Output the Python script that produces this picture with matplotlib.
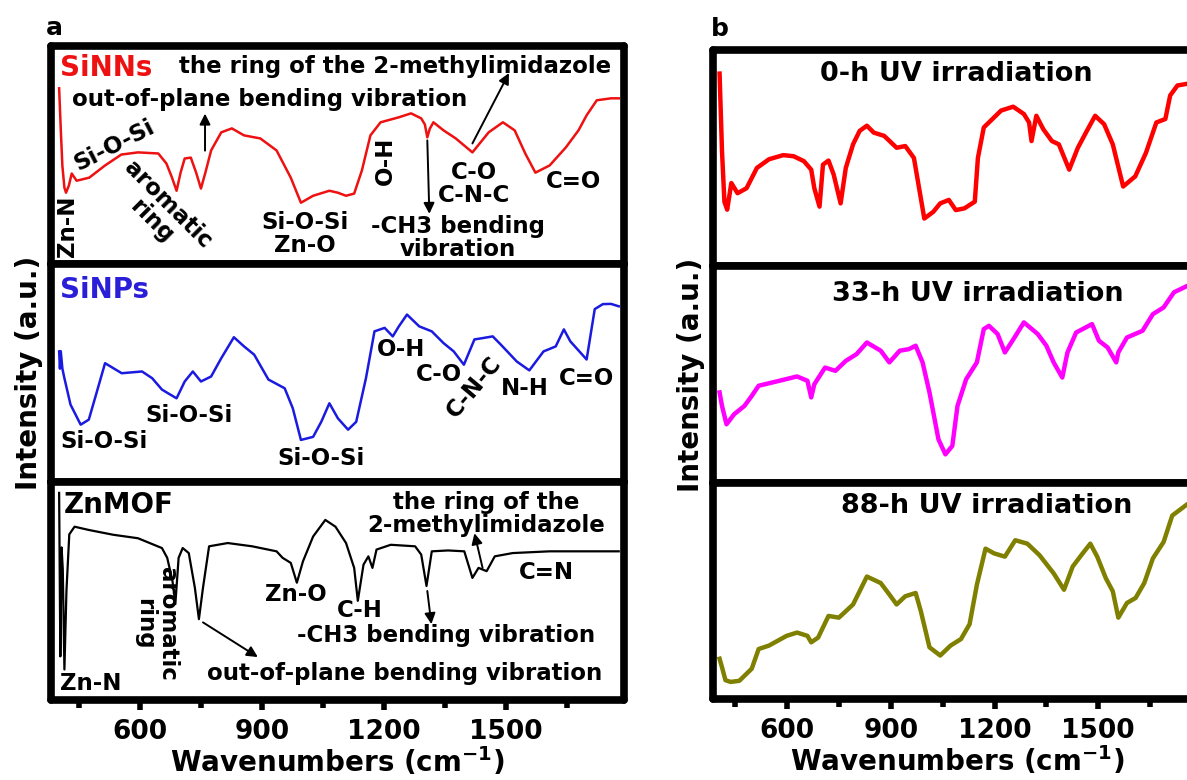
import matplotlib.pyplot as plt
from matplotlib.ticker import FixedLocator

plt.rcParams['font.family'] = ['DejaVu Sans']
plt.rcParams['font.weight'] = 'bold'
plt.rcParams['mathtext.default'] = 'bf'

# ---- panel a spectra (wavenumber, intensity a.u.) ----
sinns_wn = [400, 404, 408, 413, 417, 424, 431, 443, 474, 513, 553, 594, 644, 664, 677, 689,
            699, 709, 724, 737, 749, 760, 774, 799, 825, 855, 895, 935, 970, 995, 1025, 1065,
            1086, 1106, 1126, 1145, 1166, 1191, 1236, 1266, 1291, 1300, 1306, 1312, 1321, 1346,
            1376, 1417, 1457, 1492, 1521, 1547, 1572, 1607, 1647, 1678, 1698, 1723, 1758, 1777]
sinns_int = [80.6, 62, 45, 35, 32.7, 36, 41.5, 38.2, 39.6, 45.2, 50.2, 51.2, 50.7, 46.1, 40, 33.6,
             42, 48.4, 48.8, 42, 34.6, 42, 52.1, 60.4, 62.2, 59, 57.6, 52.1, 39.6, 28.1, 31.3, 33.6,
             32.7, 31.3, 32.3, 42.9, 59, 65, 67.3, 69.1, 66.8, 64, 58.1, 62, 65, 61.3,
             57.6, 51.2, 60.4, 65, 61.3, 50.7, 41.9, 45.2, 53.5, 61.3, 68.2, 75.1, 76, 76]

sinps_wn = [400, 402, 404, 408, 413, 428, 453, 473, 493, 513, 554, 604, 629, 653, 668, 689,
            709, 729, 749, 774, 799, 830, 855, 880, 915, 955, 975, 995, 1025, 1045, 1065, 1086,
            1111, 1131, 1155, 1176, 1201, 1221, 1236, 1256, 1286, 1317, 1346, 1371, 1396, 1422,
            1442, 1467, 1487, 1526, 1557, 1592, 1622, 1642, 1658, 1698, 1718, 1738, 1758, 1777]
sinps_int = [59.9, 52, 60, 52, 47.6, 35.5, 26.3, 28.6, 41.5, 54.5, 49.9, 50.7, 47.6, 42.4, 40.7, 38.4,
             46.1, 50.7, 46.1, 48.4, 56.8, 66.4, 62.2, 58.4, 47, 43, 33.8, 19.3, 20.7, 27.6, 36.1, 29.2,
             24, 27.6, 47.6, 69.1, 70.7, 66.8, 71.4, 76.8, 71.4, 69.1, 63.7, 59.9, 53.8, 65.4,
             66, 66.8, 63, 55.3, 51.2, 59.9, 62.2, 70, 64.5, 56.2, 79.3, 81.6, 81.7, 80.6]

znmof_wn = [400, 403, 406, 409, 413, 418, 425, 438, 473, 533, 594, 653, 666, 679, 686, 694,
            704, 719, 734, 744, 754, 769, 815, 875, 935, 950, 970, 985, 1000, 1025, 1055, 1080,
            1106, 1126, 1135, 1149, 1161, 1171, 1181, 1216, 1276, 1291, 1304, 1317, 1357, 1397,
            1417, 1432, 1452, 1472, 1516, 1607, 1678, 1758, 1777]
znmof_int = [95, 20, 70, 60, 14, 50, 76, 79.5, 78, 75.8, 74.2, 69.7, 65.2, 54.5, 44, 65.2,
             69.7, 67.4, 51.5, 37.1, 51.5, 70.5, 72, 70.5, 68.2, 65.2, 62.9, 53.8, 63.6, 75, 82.6, 79.5,
             72, 60.6, 45.5, 62.1, 65.9, 60.6, 69, 71.2, 70.5, 66.7, 52.3, 68.2, 68.6, 68.2,
             56, 60.6, 59.1, 65.9, 67.4, 68.2, 68.2, 68.2, 68.2]

# ---- panel b spectra ----
uv0_wn = [405, 412, 419, 427, 439, 457, 483, 513, 548, 589, 619, 649, 670, 679, 694, 704,
          720, 735, 755, 770, 791, 810, 831, 851, 881, 917, 942, 967, 982, 997, 1023, 1043,
          1068, 1088, 1113, 1143, 1152, 1169, 1194, 1219, 1254, 1285, 1300, 1307, 1321, 1341,
          1366, 1386, 1416, 1441, 1467, 1491, 1517, 1542, 1572, 1607, 1638, 1668, 1694, 1708,
          1729, 1758, 1790]
uv0_int = [89.1, 53.3, 29.9, 26.2, 38.5, 33.8, 36.1, 45.5, 49.5, 51.4, 50.9, 48.6, 44.7, 36.1, 27.6, 47,
           48.9, 42.4, 29.1, 45.5, 56.4, 62.6, 65, 61.8, 60.3, 54.8, 55.6, 50.1, 36.1, 22.1, 25.2, 29.1,
           30.7, 26, 26.8, 29.9, 50.1, 64.2, 68.1, 72, 73.8, 70.4, 66.5, 57.9, 69.6, 63.4,
           57.9, 56.4, 44.7, 54.8, 62.6, 69.6, 65.7, 56.4, 36.9, 41.6, 52.5, 66.5, 68.1, 79,
           83.6, 84.4, 85]

uv33_wn = [405, 412, 425, 447, 477, 498, 518, 578, 629, 659, 670, 679, 710, 740, 770, 801,
           831, 871, 896, 926, 952, 972, 992, 1012, 1038, 1058, 1078, 1093, 1118, 1149, 1169, 1184,
           1209, 1230, 1255, 1285, 1325, 1350, 1371, 1396, 1411, 1436, 1482, 1502, 1527, 1552,
           1558, 1583, 1628, 1658, 1689, 1719, 1758, 1790]
uv33_int = [41.7, 35.5, 27, 31.6, 35.5, 40.1, 44.8, 47.1, 49.1, 47.1, 39.4, 45.5, 53.2, 51.7, 56.3, 59.4,
            64.8, 61, 55.6, 61, 61.7, 63.3, 55.6, 41.7, 20, 13.1, 17, 35.5, 47.8, 55.6, 71, 72.5,
            68.7, 60.2, 66.4, 74.1, 68.7, 63.3, 55.6, 48.6, 60.2, 69.4, 73.3, 65.6, 62.5, 55.6,
            60.2, 67.1, 70.2, 77.9, 81, 88, 91, 92]

uv88_wn = [405, 412, 422, 437, 462, 498, 518, 548, 599, 629, 659, 670, 690, 720, 750, 791,
           831, 871, 896, 917, 942, 972, 987, 1012, 1043, 1073, 1103, 1128, 1149, 1174, 1199, 1230,
           1260, 1295, 1330, 1371, 1401, 1426, 1451, 1477, 1497, 1522, 1542, 1558, 1583, 1608,
           1633, 1658, 1689, 1714, 1758, 1790]
uv88_int = [18.6, 14.7, 8.7, 7.9, 8.4, 14, 23.1, 24.7, 29.2, 30.7, 29.2, 26.2, 28.4, 38.4, 37.6, 43.7,
            56.6, 53.6, 48.3, 43.7, 47.5, 49, 40.6, 23.9, 20.1, 24.7, 27.7, 34.6, 52.8, 69.5, 67.3, 65.8,
            73.4, 71.8, 66.5, 58.1, 50.5, 61.2, 66.5, 71.8, 65.8, 55.8, 49.8, 37.6, 44.4, 46.7,
            53.6, 65, 72.6, 84.8, 90.1, 91]

major_ticks = [600, 900, 1200, 1500]
minor_ticks = [450, 750, 1050, 1350, 1650]

W, H = 1187, 780
fig = plt.figure(figsize=(W / 100, H / 100), dpi=100)


def stacked_axes(x0, x1, y_top, y_bot, xlim):
    """Three framed axes stacked with no gap; pixel coordinates in, axes out."""
    left, right = x0 / W, x1 / W
    top, bot = 1 - y_top / H, 1 - y_bot / H
    h = (top - bot) / 3
    axes = []
    for i in range(3):
        ax = fig.add_axes([left, top - (i + 1) * h, right - left, h])
        ax.set_xlim(*xlim)
        ax.set_ylim(0, 100)
        ax.set_yticks([])
        for sp in ax.spines.values():
            sp.set_linewidth(5.5)
            sp.set_capstyle('round')
        ax.tick_params(axis='x', which='both', bottom=False, labelbottom=False)
        axes.append(ax)
    low = axes[-1]
    low.xaxis.set_major_locator(FixedLocator(major_ticks))
    low.xaxis.set_minor_locator(FixedLocator(minor_ticks))
    low.tick_params(axis='x', which='major', bottom=True, labelbottom=True,
                    direction='out', length=7, width=4, labelsize=19, pad=7)
    low.tick_params(axis='x', which='minor', bottom=True, direction='out', length=6, width=4)
    low.set_xlabel('Wavenumbers (cm$^{-1}$)', fontsize=20, fontweight='bold', labelpad=0)
    axes[1].set_ylabel('Intensity (a.u.)', fontsize=20, fontweight='bold', labelpad=6)
    return axes


a1, a2, a3 = stacked_axes(51, 624, 46, 700, (380, 1790))
b1, b2, b3 = stacked_axes(713, 1202, 50, 699, (386, 1800))

a1.plot(sinns_wn, sinns_int, color='#ee1111', lw=1.8)
a2.plot(sinps_wn, sinps_int, color='#1a1ae0', lw=1.8)
a3.plot(znmof_wn, znmof_int, color='black', lw=1.6)

b1.plot(uv0_wn, uv0_int, color='#ff0000', lw=3.2)
b2.plot(uv33_wn, uv33_int, color='#ff00ff', lw=3.2)
b3.plot(uv88_wn, uv88_int, color='#808000', lw=3.2)

fs = 16.5
arrow = dict(arrowstyle='-|>', color='black', lw=1.4, mutation_scale=16, shrinkA=0, shrinkB=0)


def label(ax, x, y, s, **kw):
    opts = dict(fontsize=fs, fontweight='bold', ha='center', va='center',
                multialignment='center', linespacing=1.0)
    opts.update(kw)
    ax.text(x, y, s, **opts)


# SiNNs
label(a1, 403, 90, 'SiNNs', color='#ee1111', fontsize=20, ha='left')
label(a1, 1226, 90.8, 'the ring of the 2-methylimidazole')
label(a1, 919, 75.6, 'out-of-plane bending vibration')
a1.annotate('', xy=(759, 69), xytext=(759, 52), arrowprops=arrow)
a1.annotate('', xy=(1507, 87.6), xytext=(1417, 55.3), arrowprops=arrow)
a1.annotate('', xy=(1311, 23), xytext=(1306, 56.7), arrowprops=arrow)
label(a1, 535, 54.4, 'Si-O-Si', rotation=27)
label(a1, 420, 17.5, 'Zn-N', rotation=90)
label(a1, 648, 23.5, 'aromatic\nring', rotation=-45)
label(a1, 1005, 13.8, 'Si-O-Si\nZn-O')
label(a1, 1202, 47.5, 'O-H', rotation=90)
label(a1, 1420, 36.9, 'C-O\nC-N-C')
label(a1, 1381, 12, '-CH3 bending\nvibration')
label(a1, 1666, 37.8, 'C=O')

# SiNPs
label(a2, 403, 88, 'SiNPs', color='#2a1ed8', fontsize=20, ha='left')
label(a2, 511, 18.4, 'Si-O-Si')
label(a2, 720, 30.4, 'Si-O-Si')
label(a2, 1044, 10.7, 'Si-O-Si')
label(a2, 1241, 60.8, 'O-H')
label(a2, 1335, 49.3, 'C-O')
label(a2, 1420, 43.3, 'C-N-C', rotation=50)
label(a2, 1546, 42.9, 'N-H')
label(a2, 1698, 47.5, 'C=O')

# ZnMOF
label(a3, 412, 89.5, 'ZnMOF', fontsize=20, ha='left')
label(a3, 1450, 85.4, 'the ring of the\n2-methylimidazole')
a3.annotate('', xy=(1422, 76.5), xytext=(1442, 60.6), arrowprops=arrow)
label(a3, 1598, 58.3, 'C=N')
label(a3, 403, 7.7, 'Zn-N', ha='left')
label(a3, 639, 35, 'aromatic\nring', rotation=-90)
a3.annotate('', xy=(889, 19.7), xytext=(754, 35.6), arrowprops=arrow)
label(a3, 1251, 12.3, 'out-of-plane bending vibration')
label(a3, 983, 48.2, 'Zn-O')
label(a3, 1140, 40.9, 'C-H')
a3.annotate('', xy=(1316, 34.8), xytext=(1306, 50), arrowprops=arrow)
label(a3, 1352, 29.5, '-CH3 bending vibration')

# UV irradiation series
label(b1, 1090, 88.8, '0-h UV irradiation', fontsize=19.5)
label(b2, 1152, 87.2, '33-h UV irradiation', fontsize=19.5)
label(b3, 1176, 89.4, '88-h UV irradiation', fontsize=19.5)

fig.text(46 / W, 1 - 28 / H, 'a', fontsize=18, fontweight='bold', va='center')
fig.text(711 / W, 1 - 29 / H, 'b', fontsize=18, fontweight='bold', va='center')

fig.savefig('out.png', dpi=100)
